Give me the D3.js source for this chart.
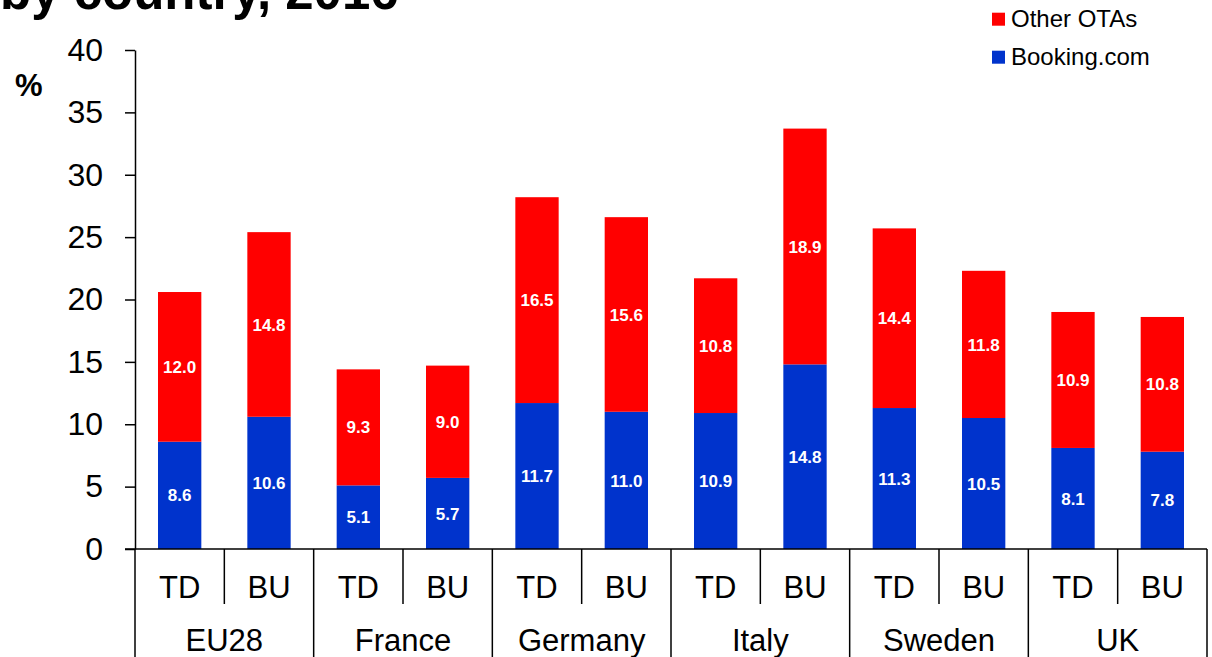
<!DOCTYPE html>
<html><head><meta charset="utf-8">
<script src="https://cdn.jsdelivr.net/npm/d3@7"></script>
<style>body{margin:0;background:#fff;overflow:hidden}svg{display:block;font-family:"Liberation Sans",Arial,sans-serif}</style>
</head><body>
<script>
const countries = ["EU28","France","Germany","Italy","Sweden","UK"];
const methods = ["TD","BU"];
const booking = [8.6,10.6, 5.1,5.7, 11.7,11.0, 10.9,14.8, 11.3,10.5, 8.1,7.8];
const otherOTAs = [12.0,14.8, 9.3,9.0, 16.5,15.6, 10.8,18.9, 14.4,11.8, 10.9,10.8];
const yTicks = [0,5,10,15,20,25,30,35,40];
const seriesNames = ["Booking.com","Other OTAs"];
const colors = {"Booking.com":"#0033CC","Other OTAs":"#FF0000"};

const W=1212,H=657;
const svg=d3.select("body").append("svg").attr("width",W).attr("height",H);
const x0=135,x1=1207,yBase=549,yTop=50;
const keys=[];
countries.forEach(c=>methods.forEach(m=>keys.push(c+"|"+m)));
const x=d3.scaleBand().domain(keys).range([x0,x1]).paddingInner(0.515).paddingOuter(0.2575);
const xg=d3.scaleBand().domain(countries).range([x0,x1]);
const y=d3.scaleLinear().domain([0,40]).range([yBase,yTop]);

const rows=keys.map((k,i)=>({key:k,"Booking.com":booking[i],"Other OTAs":otherOTAs[i]}));
const stack=d3.stack().keys(seriesNames)(rows);

// title (cut off at top, as in the reference)
svg.append("text").attr("x",0).attr("y",9).attr("font-size",51).attr("font-weight","bold").text("by country, 2016");

// bars
const g=svg.append("g");
stack.forEach(s=>{
  g.selectAll(null).data(s).enter().append("rect")
   .attr("x",d=>x(d.data.key)).attr("width",x.bandwidth())
   .attr("y",d=>y(d[1])).attr("height",d=>y(d[0])-y(d[1]))
   .attr("fill",colors[s.key]);
  g.selectAll(null).data(s).enter().append("text")
   .attr("x",d=>x(d.data.key)+x.bandwidth()/2)
   .attr("y",d=>(y(d[0])+y(d[1]))/2).attr("dy","0.36em")
   .attr("text-anchor","middle").attr("fill","#fff").attr("font-weight","bold").attr("font-size",17)
   .text(d=>d3.format(".1f")(d[1]-d[0]));
});

// y axis
const ya=svg.append("g").attr("transform",`translate(${x0},0)`)
  .call(d3.axisLeft(y).tickValues(yTicks).tickSize(10).tickSizeOuter(0).tickPadding(22));
ya.select(".domain").attr("stroke","#000").attr("stroke-width",1.5);
ya.selectAll(".tick line").attr("stroke","#000").attr("stroke-width",1.5);
ya.selectAll("text").attr("font-size",32).attr("fill","#000").attr("font-family","Liberation Sans, Arial, sans-serif");
svg.append("text").attr("x",15).attr("y",96).attr("font-size",31).attr("font-weight","bold").text("%");

// category axis
const ca=svg.append("g").attr("stroke","#000").attr("stroke-width",1.5);
ca.append("line").attr("x1",125).attr("x2",x1).attr("y1",yBase).attr("y2",yBase);
countries.forEach(c=>{
  ca.append("line").attr("x1",xg(c)).attr("x2",xg(c)).attr("y1",yBase).attr("y2",H);
  const mid=xg(c)+xg.bandwidth()/2;
  ca.append("line").attr("x1",mid).attr("x2",mid).attr("y1",yBase).attr("y2",604);
});
ca.append("line").attr("x1",x1).attr("x2",x1).attr("y1",yBase).attr("y2",H);
svg.append("g").selectAll(null).data(keys).enter().append("text")
  .attr("x",k=>x(k)+x.bandwidth()/2).attr("y",598).attr("text-anchor","middle").attr("font-size",31)
  .text(k=>k.split("|")[1]);
svg.append("g").selectAll(null).data(countries).enter().append("text")
  .attr("x",c=>xg(c)+xg.bandwidth()/2).attr("y",651).attr("text-anchor","middle").attr("font-size",31)
  .text(c=>c);

// legend
const leg=[["Other OTAs",12.7,27],["Booking.com",50.7,64.5]];
leg.forEach(([n,sy,ty])=>{
  svg.append("rect").attr("x",992).attr("y",sy).attr("width",13).attr("height",13).attr("fill",colors[n]);
  svg.append("text").attr("x",1011).attr("y",ty).attr("font-size",24).text(n);
});
</script>
</body></html>
